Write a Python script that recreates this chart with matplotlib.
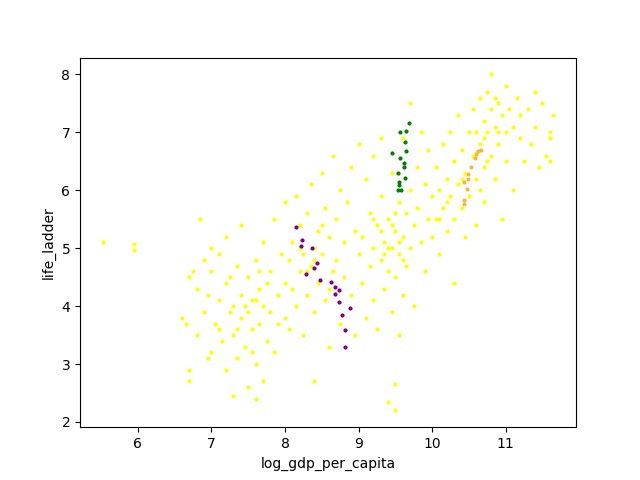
import matplotlib
matplotlib.use('Agg')
import matplotlib.pyplot as plt

# === DATA ===
yellow_pts = [
    (5.52, 5.1), (5.95, 5.07), (5.95, 4.97),
    # low income cluster
    (6.6, 3.8), (6.65, 3.7), (6.7, 4.5), (6.7, 2.9), (6.7, 2.7), (6.75, 4.6), (6.8, 3.5), (6.8, 4.3),
    (6.85, 5.5), (6.9, 4.8), (6.9, 3.9), (6.95, 4.2), (7.0, 3.2), (7.0, 4.6), (7.0, 5.0), (7.05, 3.7),
    (7.1, 4.1), (7.1, 4.9), (7.15, 3.4), (7.2, 4.4), (7.2, 2.9), (7.2, 5.2), (7.25, 3.9), (7.3, 4.0),
    (7.3, 3.5), (7.3, 2.45), (7.35, 4.7), (7.35, 3.1), (7.4, 4.2), (7.4, 3.8), (7.4, 5.4), (7.45, 3.3),
    (7.5, 4.5), (7.5, 3.9), (7.5, 2.6), (7.55, 4.1), (7.55, 3.6), (7.6, 4.8), (7.6, 3.0), (7.6, 2.4),
    (7.65, 4.3), (7.65, 3.7), (7.7, 5.1), (7.7, 4.0), (7.7, 2.7), (7.75, 3.4), (7.8, 4.6), (7.8, 3.9),
    (7.85, 5.5), (7.85, 3.2), (7.9, 4.2), (7.9, 3.7), (7.95, 4.9), (8.0, 3.8), (8.0, 4.4), (8.0, 5.8),
    (7.45, 4.0), (7.25, 4.5), (7.55, 3.2), (7.65, 4.6), (7.1, 3.6), (6.95, 3.1), (7.75, 4.4), (7.35, 3.6),
    (7.6, 4.1),
    # 8 - 9
    (8.05, 4.8), (8.05, 3.6), (8.1, 5.1), (8.1, 4.3), (8.15, 5.9), (8.15, 4.0), (8.2, 4.6), (8.2, 5.4),
    (8.25, 4.9), (8.25, 3.5), (8.3, 4.2), (8.3, 5.6), (8.35, 4.7), (8.35, 6.1), (8.4, 5.0), (8.4, 2.7),
    (8.4, 3.9), (8.45, 5.3), (8.45, 4.4), (8.5, 4.9), (8.5, 6.3), (8.55, 5.7), (8.55, 4.1), (8.6, 5.2),
    (8.6, 3.3), (8.65, 4.6), (8.65, 6.6), (8.7, 5.5), (8.7, 4.8), (8.75, 6.0), (8.75, 3.7), (8.8, 5.1),
    (8.8, 4.5), (8.85, 5.8), (8.9, 6.4), (8.9, 4.2), (8.95, 5.3), (8.95, 3.5), (9.0, 6.8), (9.0, 4.9),
    (8.3, 4.6), (8.5, 5.4), (8.6, 4.3), (8.2, 5.0), (8.4, 4.8),
    # 9 - 10
    (9.05, 5.2), (9.05, 4.4), (9.1, 6.2), (9.1, 3.8), (9.15, 5.6), (9.15, 4.7), (9.2, 5.0), (9.2, 6.6),
    (9.2, 4.1), (9.25, 5.4), (9.25, 3.6), (9.3, 4.8), (9.3, 5.9), (9.3, 6.9), (9.35, 5.1), (9.35, 4.3),
    (9.4, 5.5), (9.4, 4.6), (9.4, 2.35), (9.45, 6.3), (9.45, 5.0), (9.45, 3.9), (9.5, 5.3), (9.5, 4.5),
    (9.5, 2.2), (9.5, 2.65), (9.55, 5.8), (9.55, 4.9), (9.55, 3.5), (9.6, 5.2), (9.6, 4.2), (9.6, 6.9),
    (9.65, 5.6), (9.65, 4.7), (9.7, 7.5), (9.7, 6.0), (9.7, 5.0), (9.75, 5.4), (9.75, 4.0), (9.8, 6.4),
    (9.8, 5.7), (9.85, 5.1), (9.85, 7.0), (9.9, 6.1), (9.9, 4.6), (9.95, 5.5), (9.95, 6.7), (10.0, 5.9),
    (10.0, 5.2), (9.3, 5.3), (9.4, 5.0), (9.5, 5.6), (9.6, 4.8), (9.2, 5.5), (9.35, 4.9), (9.55, 5.1),
    (9.45, 5.4),
    # 10 - 10.5
    (10.05, 6.4), (10.05, 5.5), (10.1, 6.0), (10.1, 4.9), (10.15, 6.8), (10.15, 5.7), (10.2, 6.2),
    (10.2, 5.3), (10.25, 7.0), (10.25, 5.9), (10.3, 6.5), (10.3, 5.5), (10.3, 4.4), (10.35, 6.1),
    (10.35, 7.3), (10.4, 5.7), (10.4, 6.7), (10.45, 6.3), (10.45, 5.2), (10.5, 7.0), (10.5, 5.9),
    (10.2, 5.8), (10.4, 6.2), (10.1, 5.5),
    # rich cluster
    (10.55, 6.6), (10.55, 7.4), (10.6, 6.2), (10.6, 7.0), (10.6, 5.4), (10.65, 7.6), (10.65, 6.8),
    (10.7, 6.4), (10.7, 7.2), (10.7, 5.8), (10.75, 7.7), (10.75, 7.0), (10.8, 6.6), (10.8, 7.4),
    (10.8, 8.0), (10.85, 7.1), (10.85, 6.2), (10.9, 7.5), (10.9, 6.8), (10.95, 7.3), (10.95, 5.5),
    (11.0, 7.0), (11.0, 7.8), (11.0, 6.5), (11.05, 7.4), (11.1, 7.1), (11.1, 6.0), (11.15, 7.6),
    (11.2, 6.9), (11.2, 7.3), (10.75, 6.5), (10.85, 7.6), (10.65, 6.0), (10.9, 7.0), (10.7, 6.9),
    (11.25, 6.5), (11.3, 7.4), (11.35, 6.8), (11.4, 7.1), (11.45, 6.4), (11.5, 7.5), (11.55, 6.6),
    (11.6, 7.0), (11.6, 6.9), (11.65, 7.3), (11.6, 6.5), (11.4, 7.7),
]
yellow_x = [p[0] for p in yellow_pts]
yellow_y = [p[1] for p in yellow_pts]

purple_x = [8.15, 8.23, 8.22, 8.37, 8.44, 8.40, 8.29, 8.62, 8.47, 8.68, 8.74, 8.68, 8.88, 8.78, 8.82, 8.81, 8.73]
purple_y = [5.36, 5.15, 5.03, 5.01, 4.74, 4.66, 4.55, 4.41, 4.45, 4.33, 4.28, 4.21, 3.97, 3.84, 3.59, 3.29, 4.07]

green_x = [9.68, 9.56, 9.65, 9.63, 9.45, 9.65, 9.57, 9.62, 9.53, 9.63, 9.55, 9.58, 9.55, 9.62, 9.53]
green_y = [7.16, 7.00, 7.03, 6.84, 6.64, 6.67, 6.55, 6.40, 6.29, 6.22, 6.09, 6.00, 6.14, 6.47, 6.00]

orange_x = [10.62, 10.67, 10.60, 10.49, 10.44, 10.47, 10.44, 10.44, 10.49, 10.53, 10.58]
orange_y = [6.67, 6.69, 6.62, 6.28, 6.14, 6.02, 5.84, 5.76, 6.19, 6.40, 6.55]

# === CHART ===
fig, ax = plt.subplots(figsize=(6.4, 4.8), dpi=100)
ax.scatter(yellow_x, yellow_y, s=4, color='yellow')
ax.scatter(orange_x, orange_y, s=4, color='orange', alpha=0.7)
ax.scatter(purple_x, purple_y, s=4, color='purple')
ax.scatter(green_x, green_y, s=4, color='green')
ax.set_xlabel('log_gdp_per_capita')
ax.set_ylabel('life_ladder')
plt.savefig('out.png')
